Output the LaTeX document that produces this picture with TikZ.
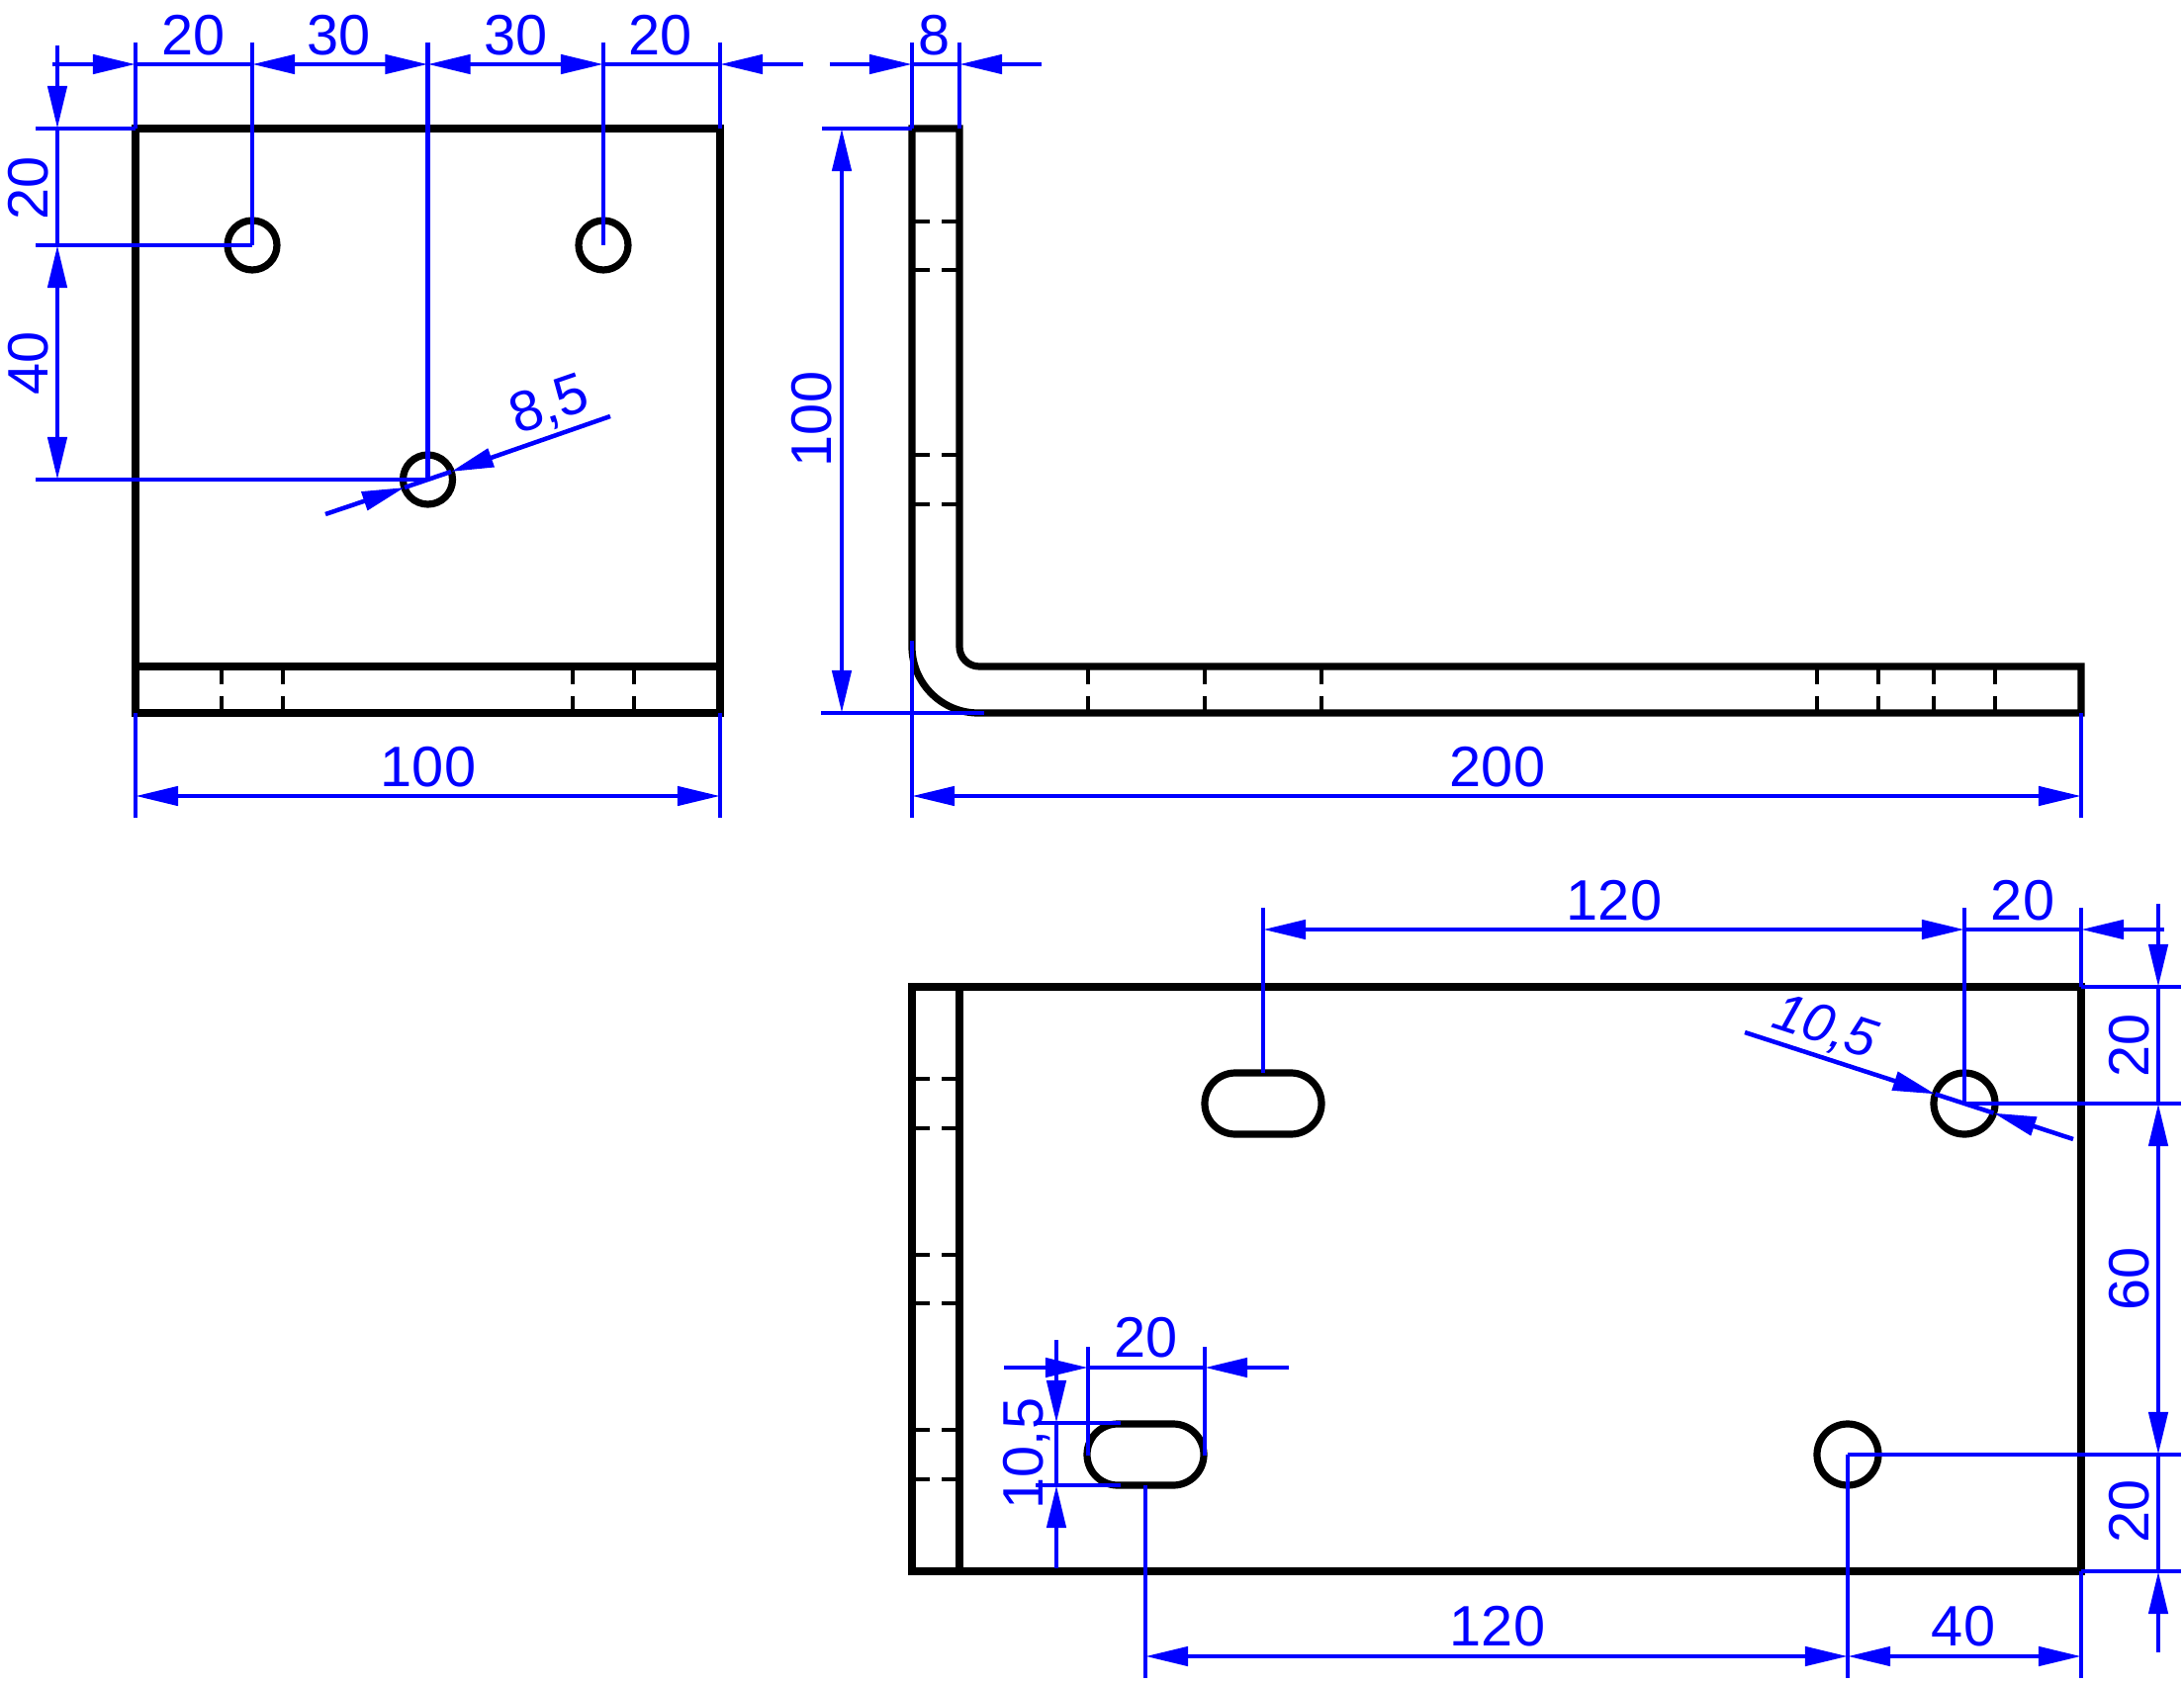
\documentclass[tikz,border=0pt]{standalone}
\usepackage{fontspec}
\setmainfont{Liberation Sans}
\usetikzlibrary{arrows.meta}
\tikzset{
	part/.style={line width=0.72mm, line join=miter},
	hidden/.style={line width=0.38mm},
	dimline/.style={blue, line width=0.45mm},
	dimtext/.style={blue, inner sep=0pt, font=\fontsize{16.4}{18}\selectfont}
}
\def\hiddenv(#1,#2){\draw[hidden] (#1,#2) -- (#1,#2+18) (#1,#2+30) -- (#1,#2+47);}
\def\hiddenh(#1,#2){\draw[hidden] (#1,#2) -- (#1+18,#2) (#1+30,#2) -- (#1+48,#2);}
\def\slothole(#1,#2){\draw[part] (#1-28,#2-31) -- (#1+28,#2-31) arc (-90:90:31) -- (#1-28,#2+31) arc (90:270:31) -- cycle;}

\begin{document}
\begin{tikzpicture}[x=0.01cm, y=-0.01cm, >={Triangle[length=4.3mm, width=1.9mm]}]
				\useasboundingbox (0, 0) rectangle (2208, 1703);
				
				\draw[part] (137, 130) rectangle (728, 721);
				\draw[part] (137, 674) -- (728, 674);
				\draw[part] (255, 248) circle (25);
				\draw[part] (610, 248) circle (25);
				\draw[part] (432.5, 485) circle (25);
				\hiddenv(224,674);
				\hiddenv(286,674);
				\hiddenv(579,674);
				\hiddenv(641,674);
				
				\draw[part] (922, 130) -- (922, 654) arc (180:90:67) -- (2104, 721) -- (2104, 674) -- (990, 674) arc (90:180:20) -- (970, 130) -- cycle;
				\hiddenh(922,224);
				\hiddenh(922,273);
				\hiddenh(922,460);
				\hiddenh(922,510);
				\hiddenv(1100,674);
				\hiddenv(1218,674);
				\hiddenv(1336,674);
				\hiddenv(1837,674);
				\hiddenv(1899,674);
				\hiddenv(1955,674);
				\hiddenv(2017,674);
				
				\draw[part] (922, 998) rectangle (2104, 1589);
				\draw[part] (970, 998) -- (970, 1589);
				\hiddenh(922,1091);
				\hiddenh(922,1141);
				\hiddenh(922,1269);
				\hiddenh(922,1318);
				\hiddenh(922,1446);
				\hiddenh(922,1496);
				\slothole(1277,1116);
				\slothole(1158,1471);
				\draw[part] (1986, 1116) circle (31);
				\draw[part] (1868, 1471) circle (31);
				
				\draw[dimline] (137, 43) -- (137, 130);
				\draw[dimline] (255, 43) -- (255, 248);
				\draw[dimline] (432.5, 43) -- (432.5, 485);
				\draw[dimline] (610, 43) -- (610, 248);
				\draw[dimline] (728, 43) -- (728, 130);
				\draw[dimline, ->] (53, 65) -- (137, 65);
				\draw[dimline] (137, 65) -- (255, 65);
				\draw[dimline, <->] (255, 65) -- (432.5, 65);
				\draw[dimline, <->] (432.5, 65) -- (610, 65);
				\draw[dimline] (610, 65) -- (728, 65);
				\draw[dimline, ->] (812, 65) -- (728, 65);
				\node[dimtext] (top20a) at (196, 36) {20};
				\node[dimtext] (top30a) at (343, 36) {30};
				\node[dimtext] (top30b) at (522, 36) {30};
				\node[dimtext] (top20b) at (668, 36) {20};
				
				\draw[dimline] (36, 130) -- (137, 130);
				\draw[dimline] (36, 248) -- (255, 248);
				\draw[dimline] (36, 485) -- (432.5, 485);
				\draw[dimline, ->] (58, 46) -- (58, 130);
				\draw[dimline] (58, 130) -- (58, 248);
				\draw[dimline, <->] (58, 248) -- (58, 485);
				\node[dimtext, rotate=90] (left20) at (29, 190) {20};
				\node[dimtext, rotate=90] (left40) at (29, 367) {40};
				
				\draw[dimline, ->] (329, 520) -- (409, 493);
				\draw[dimline] (409, 493) -- (456, 477);
				\draw[dimline, ->] (617, 421) -- (456, 477);
				\node[dimtext, rotate=19] (dia85) at (556, 411) {8,5};
				
				\draw[dimline] (137, 721) -- (137, 827);
				\draw[dimline] (728, 721) -- (728, 827);
				\draw[dimline, <->] (137, 805) -- (728, 805);
				\node[dimtext] (front100) at (433, 776) {100};
				
				\draw[dimline] (922, 43) -- (922, 130);
				\draw[dimline] (970, 43) -- (970, 130);
				\draw[dimline, ->] (839, 65) -- (922, 65);
				\draw[dimline] (922, 65) -- (970, 65);
				\draw[dimline, ->] (1053, 65) -- (970, 65);
				\node[dimtext] (side8) at (945, 36) {8};
				
				\draw[dimline] (831, 130) -- (922, 130);
				\draw[dimline] (830, 721) -- (995, 721);
				\draw[dimline, <->] (851, 130) -- (851, 721);
				\node[dimtext, rotate=90] (side100) at (821, 424) {100};
				
				\draw[dimline] (922, 648) -- (922, 827);
				\draw[dimline] (2104, 721) -- (2104, 827);
				\draw[dimline, <->] (922, 805) -- (2104, 805);
				\node[dimtext] (side200) at (1514, 776) {200};
				
				\draw[dimline] (1277, 918) -- (1277, 1085);
				\draw[dimline] (1986, 918) -- (1986, 1116);
				\draw[dimline] (2104, 918) -- (2104, 998);
				\draw[dimline, <->] (1277, 940) -- (1986, 940);
				\draw[dimline] (1986, 940) -- (2104, 940);
				\draw[dimline, ->] (2188, 940) -- (2104, 940);
				\node[dimtext] (plan120a) at (1632, 911) {120};
				\node[dimtext] (plan20a) at (2045, 911) {20};
				
				\draw[dimline] (2104, 998) -- (2205, 998);
				\draw[dimline] (1986, 1116) -- (2205, 1116);
				\draw[dimline] (1868, 1471) -- (2205, 1471);
				\draw[dimline] (2104, 1589) -- (2205, 1589);
				\draw[dimline, ->] (2182, 914) -- (2182, 998);
				\draw[dimline] (2182, 998) -- (2182, 1116);
				\draw[dimline, <->] (2182, 1116) -- (2182, 1471);
				\draw[dimline] (2182, 1471) -- (2182, 1589);
				\draw[dimline, ->] (2182, 1671) -- (2182, 1589);
				\node[dimtext, rotate=90] (plan20b) at (2153, 1057) {20};
				\node[dimtext, rotate=90] (plan60) at (2153, 1293) {60};
				\node[dimtext, rotate=90] (plan20c) at (2153, 1528) {20};
				
				\draw[dimline, ->] (1764, 1044) -- (1956.5, 1106.4);
				\draw[dimline] (1956.5, 1106.4) -- (2015.5, 1125.6);
				\draw[dimline, ->] (2096, 1152) -- (2015.5, 1125.6);
				\node[dimtext, rotate=-18, font=\fontsize{15.6}{18}\selectfont\itshape] (dia105) at (1845, 1040) {10,5};
				
				\draw[dimline] (1100, 1362) -- (1100, 1472);
				\draw[dimline] (1218, 1362) -- (1218, 1472);
				\draw[dimline, ->] (1015, 1383) -- (1100, 1383);
				\draw[dimline] (1100, 1383) -- (1218, 1383);
				\draw[dimline, ->] (1303, 1383) -- (1218, 1383);
				\node[dimtext] (slot20) at (1159, 1353) {20};
				
				\draw[dimline] (1047, 1439) -- (1133, 1439);
				\draw[dimline] (1047, 1502) -- (1133, 1502);
				\draw[dimline, ->] (1068, 1355) -- (1068, 1439);
				\draw[dimline] (1068, 1439) -- (1068, 1502);
				\draw[dimline, ->] (1068, 1586) -- (1068, 1502);
				\node[dimtext, rotate=90] (slot105) at (1038, 1470) {10,5};
				
				\draw[dimline] (1158, 1502) -- (1158, 1697);
				\draw[dimline] (1868, 1471) -- (1868, 1697);
				\draw[dimline] (2104, 1589) -- (2104, 1697);
				\draw[dimline, <->] (1158, 1675) -- (1868, 1675);
				\draw[dimline, <->] (1868, 1675) -- (2104, 1675);
				\node[dimtext] (plan120b) at (1514, 1645) {120};
				\node[dimtext] (plan40) at (1985, 1645) {40};
			\end{tikzpicture}
\end{document}
